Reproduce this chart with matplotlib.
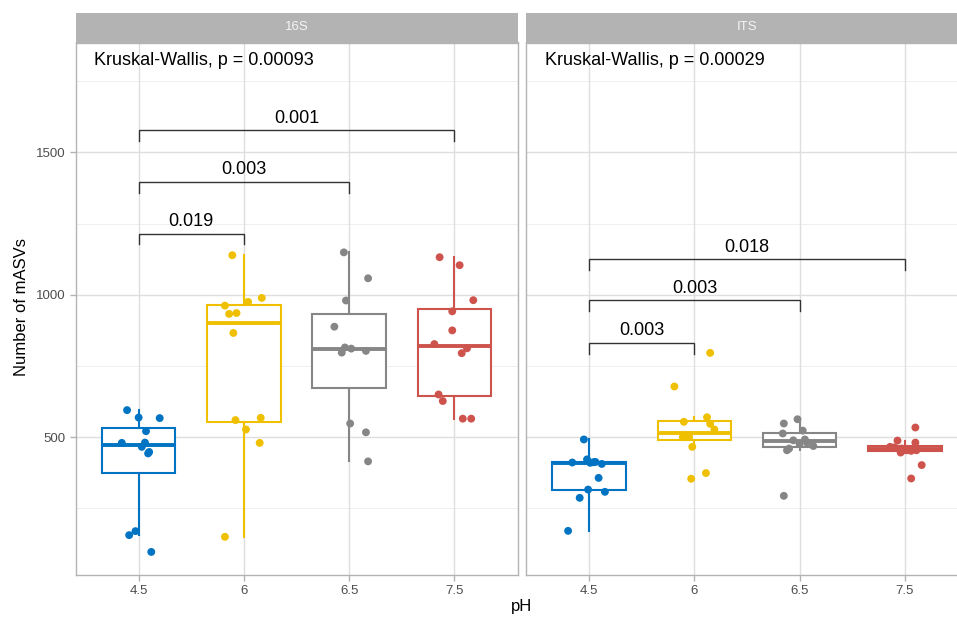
import matplotlib
matplotlib.use("Agg")
import matplotlib.pyplot as plt
import numpy as np

plt.rcParams["font.family"] = ["Liberation Sans", "DejaVu Sans"]

# ---- data ---------------------------------------------------------------
ph_levels = ["4.5", "6", "6.5", "7.5"]
panel_titles = ["16S", "ITS"]
group_colors = ["#0073C2", "#EFC000", "#868686", "#CD534C"]

# Number of mASVs per sample (16S)
s16_ph45 = [595, 569, 567, 521, 480, 481, 466, 443, 448, 156, 170, 97]
s16_ph60 = [1139, 962, 975, 989, 933, 936, 866, 560, 568, 527, 480, 150]
s16_ph65 = [1149, 1058, 980, 888, 815, 811, 797, 803, 548, 517, 415]
s16_ph75 = [1132, 1104, 981, 942, 875, 827, 812, 795, 650, 627, 565, 565]

# Number of mASVs per sample (ITS)
its_ph45 = [492, 411, 422, 413, 406, 357, 316, 308, 287, 171, 410, 412]
its_ph60 = [796, 678, 570, 554, 547, 527, 500, 500, 466, 374, 354, 500]
its_ph65 = [548, 563, 523, 513, 489, 492, 481, 469, 454, 460, 294, 475]
its_ph75 = [534, 488, 481, 466, 464, 460, 454, 452, 454, 446, 402, 355]

# horizontal jitter of the sample points (category units)
jit_s16_ph45 = [-0.11, 0.00, 0.20, 0.07, -0.16, 0.06, 0.03, 0.09, 0.10, -0.09, -0.03, 0.12]
jit_s16_ph60 = [-0.11, -0.18, 0.04, 0.17, -0.14, -0.07, -0.10, -0.08, 0.16, 0.02, 0.15, -0.18]
jit_s16_ph65 = [-0.05, 0.18, -0.03, -0.14, -0.04, 0.02, -0.07, 0.16, 0.01, 0.16, 0.18]
jit_s16_ph75 = [-0.14, 0.05, 0.18, -0.02, -0.02, -0.19, 0.12, 0.07, -0.15, -0.11, 0.08, 0.16]

jit_its_ph45 = [-0.05, -0.16, -0.02, 0.06, 0.12, 0.09, -0.01, 0.15, -0.09, -0.20, 0.01, 0.04]
jit_its_ph60 = [0.15, -0.19, 0.12, -0.10, 0.15, 0.19, -0.11, -0.05, -0.02, 0.11, -0.03, -0.08]
jit_its_ph65 = [-0.15, -0.02, 0.03, -0.16, -0.06, 0.05, 0.07, 0.13, -0.12, -0.10, -0.15, 0.00]
jit_its_ph75 = [0.10, -0.07, 0.10, -0.14, -0.10, -0.03, 0.02, 0.06, 0.11, -0.04, 0.16, 0.06]

kruskal_p = ["0.00093", "0.00029"]

# pairwise comparisons against pH 4.5: (group index, p label)
pairs_16s = [(1, "0.019"), (2, "0.003"), (3, "0.001")]
pairs_its = [(1, "0.003"), (2, "0.003"), (3, "0.018")]

panel_values = [[s16_ph45, s16_ph60, s16_ph65, s16_ph75],
                [its_ph45, its_ph60, its_ph65, its_ph75]]
panel_jitter = [[jit_s16_ph45, jit_s16_ph60, jit_s16_ph65, jit_s16_ph75],
                [jit_its_ph45, jit_its_ph60, jit_its_ph65, jit_its_ph75]]
panel_pairs = [pairs_16s, pairs_its]

# ---- layout ---------------------------------------------------------------
W, H = 957, 619
fig = plt.figure(figsize=(W / 100, H / 100), dpi=100)
fig.patch.set_facecolor("white")


def rect(x0, y0, x1, y1):
    return [x0 / W, 1 - y1 / H, (x1 - x0) / W, (y1 - y0) / H]


panel_px = [(75.5, 517.5), (526.0, 968.0)]
top_px, bottom_px, strip_top_px = 42.5, 575.0, 12.5

# bracket heights (data units) for each panel, bottom to top
bracket_y = [[1215, 1396, 1577], [831, 980, 1124]]
tick_len = 38
label_gap = 14

border_col = "#B3B3B3"
pos = np.arange(1, len(ph_levels) + 1)

for k in range(2):
    x0, x1 = panel_px[k]
    ax = fig.add_axes(rect(x0, top_px, x1, bottom_px))
    ax.set_xlim(0.4, 4.6)
    ax.set_ylim(16, 1886)
    ax.set_facecolor("white")

    # grid
    for yv in [250, 750, 1250, 1750]:
        ax.axhline(yv, color="#EDEDED", lw=0.6, zorder=0)
    for yv in [500, 1000, 1500]:
        ax.axhline(yv, color="#DEDEDE", lw=1.0, zorder=0)
    for xv in pos:
        ax.axvline(xv, color="#DEDEDE", lw=1.0, zorder=0)

    vals = panel_values[k]
    bp = ax.boxplot(vals, positions=pos, widths=0.7, whis=1.5,
                    showfliers=False, patch_artist=True, zorder=2,
                    medianprops=dict(lw=2.8), boxprops=dict(lw=1.5),
                    whiskerprops=dict(lw=1.5), capprops=dict(lw=0))
    for i, c in enumerate(group_colors):
        bp["boxes"][i].set_facecolor("white")
        bp["boxes"][i].set_edgecolor(c)
        bp["medians"][i].set_color(c)
        for w in bp["whiskers"][2 * i:2 * i + 2]:
            w.set_color(c)

    for i, c in enumerate(group_colors):
        xs = pos[i] + np.array(panel_jitter[k][i])
        ax.scatter(xs, vals[i], s=32, color=c, edgecolors="none", zorder=3)

    # significance brackets
    for (gi, lab), yb in zip(panel_pairs[k], bracket_y[k]):
        xa, xb = pos[0], pos[gi]
        ax.plot([xa, xa, xb, xb], [yb - tick_len, yb, yb, yb - tick_len],
                color="#333333", lw=1.0, zorder=4, solid_joinstyle="miter")
        ax.text((xa + xb) / 2, yb + label_gap, lab, ha="center", va="bottom",
                fontsize=13, color="black")

    ax.text(0.58, 1823, f"Kruskal-Wallis, p = {kruskal_p[k]}", ha="left",
            va="center", fontsize=13, color="black")

    # axes styling
    for sp in ax.spines.values():
        sp.set_color(border_col)
        sp.set_linewidth(1.0)
    ax.set_xticks(pos)
    ax.set_xticklabels(ph_levels)
    ax.set_yticks([500, 1000, 1500])
    if k == 0:
        ax.set_yticklabels(["500", "1000", "1500"])
    else:
        ax.tick_params(axis="y", length=0, labelleft=False)
    ax.tick_params(axis="both", colors=border_col, labelcolor="#4D4D4D",
                   labelsize=9.5, length=4, width=1.0, pad=3)
    if k == 1:
        ax.tick_params(axis="y", length=0)

    # facet strip
    sax = fig.add_axes(rect(x0, strip_top_px, x1, top_px))
    sax.set_facecolor("#B3B3B3")
    sax.set_xticks([])
    sax.set_yticks([])
    for sp in sax.spines.values():
        sp.set_visible(False)
    sax.text(0.5, 0.5, panel_titles[k], ha="center", va="center",
             fontsize=9.5, color="#F5F5F5", transform=sax.transAxes)

fig.text(22 / W, 1 - 307 / H, "Number of mASVs", rotation=90, ha="center",
         va="center", fontsize=12, color="black")
fig.text(521.75 / W, 1 - 606 / H, "pH", ha="center", va="center",
         fontsize=12, color="black")

fig.savefig("out.png", dpi=100, facecolor="white")
